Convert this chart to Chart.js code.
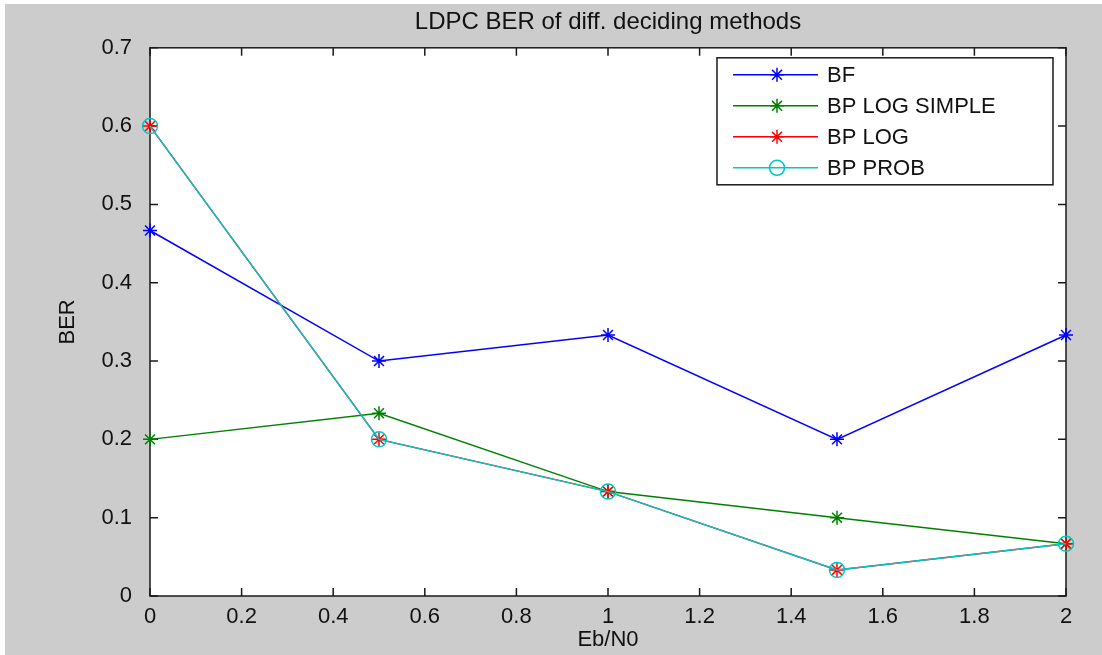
<!DOCTYPE html>
<html lang="en">
<head>
    <meta charset="UTF-8">
    <title>LDPC BER</title>
    <script src="https://cdn.jsdelivr.net/npm/chart.js"></script>
    <style>
        body { margin: 0; background: #ffffff; }
        .moldura { position: absolute; left: 5px; top: 4px; width: 1097px; height: 651px; background: #cccccc; }
    </style>
</head>
<body>
    <div class="moldura">
        <canvas id="grafico" width="1097" height="651"></canvas>
    </div>

<script>
    // valores
    const ebn0 = [0, 0.5, 1, 1.5, 2]
    const berBF = [0.4667, 0.3, 0.3333, 0.2, 0.3333]
    const berLogSimple = [0.2, 0.2333, 0.1333, 0.1, 0.0667]
    const berLog = [0.6, 0.2, 0.1333, 0.0333, 0.0667]
    const berProb = [0.6, 0.2, 0.1333, 0.0333, 0.0667]
    const nomes = ['BF', 'BP LOG SIMPLE', 'BP LOG', 'BP PROB']

    const fonte = 'Liberation Sans, Arial, sans-serif'

    function pontos(valores) {
        return ebn0.map((x, i) => ({ x: x, y: valores[i] }))
    }

    // ordem maior = desenhado por baixo (a ultima serie fica por cima, como no matlab)
    function serie(nome, valores, cor, estilo, ordem) {
        return {
            label: nome,
            data: pontos(valores),
            borderColor: cor,
            backgroundColor: estilo == 'circle' ? 'rgba(0,0,0,0)' : cor,
            pointBorderColor: cor,
            pointStyle: estilo,
            pointRadius: estilo == 'circle' ? 7.5 : 7,
            pointBorderWidth: 1.5,
            borderWidth: 1.5,
            tension: 0,
            clip: false,
            order: ordem
        }
    }

    function desenhaMarca(ctx, estilo, x, y, r, cor) {
        ctx.save()
        ctx.strokeStyle = cor
        ctx.lineWidth = 1.5
        ctx.beginPath()
        if (estilo == 'circle') {
            ctx.arc(x, y, r, 0, Math.PI * 2)
        } else {
            ctx.moveTo(x - r, y); ctx.lineTo(x + r, y)
            ctx.moveTo(x, y - r); ctx.lineTo(x, y + r)
            const d = r * Math.SQRT1_2
            ctx.moveTo(x - d, y - d); ctx.lineTo(x + d, y + d)
            ctx.moveTo(x - d, y + d); ctx.lineTo(x + d, y - d)
        }
        ctx.stroke()
        ctx.restore()
    }

    // caixa dos eixos, ticks para dentro e legenda estilo matlab
    const estiloMatlab = {
        id: 'estiloMatlab',
        beforeDatasetsDraw(chart) {
            const ctx = chart.ctx
            const a = chart.chartArea
            const sx = chart.scales.x
            const sy = chart.scales.y
            ctx.save()
            ctx.fillStyle = '#ffffff'
            ctx.fillRect(a.left, a.top, a.right - a.left, a.bottom - a.top)
            ctx.strokeStyle = '#1a1a1a'
            ctx.lineWidth = 1.5
            ctx.beginPath()
            sx.ticks.forEach(t => {
                const px = sx.getPixelForValue(t.value)
                ctx.moveTo(px, a.bottom); ctx.lineTo(px, a.bottom - 8)
                ctx.moveTo(px, a.top); ctx.lineTo(px, a.top + 8)
            })
            sy.ticks.forEach(t => {
                const py = sy.getPixelForValue(t.value)
                ctx.moveTo(a.left, py); ctx.lineTo(a.left + 8, py)
                ctx.moveTo(a.right, py); ctx.lineTo(a.right - 8, py)
            })
            ctx.stroke()
            ctx.strokeRect(a.left, a.top, a.right - a.left, a.bottom - a.top)
            ctx.restore()
        },
        afterDraw(chart) {
            const ctx = chart.ctx
            const a = chart.chartArea
            const larg = 336, alt = 127
            const x0 = a.right - 13 - larg
            const y0 = a.top + 10
            ctx.save()
            ctx.fillStyle = '#ffffff'
            ctx.fillRect(x0, y0, larg, alt)
            ctx.strokeStyle = '#1a1a1a'
            ctx.lineWidth = 1.5
            ctx.strokeRect(x0, y0, larg, alt)
            ctx.font = '22px ' + fonte
            ctx.textBaseline = 'middle'
            chart.data.datasets.forEach((ds, i) => {
                const y = y0 + 17 + i * 31
                ctx.strokeStyle = ds.borderColor
                ctx.lineWidth = 1.5
                ctx.beginPath()
                ctx.moveTo(x0 + 16, y); ctx.lineTo(x0 + 101, y)
                ctx.stroke()
                desenhaMarca(ctx, ds.pointStyle, x0 + 60, y, ds.pointRadius, ds.borderColor)
                ctx.fillStyle = '#111111'
                ctx.fillText(ds.label, x0 + 110, y + 1)
            })
            ctx.restore()
        }
    }

    function formata(v) {
        return String(Number(v.toFixed(1)))
    }

    const config = {
        type: 'line',
        data: {
            datasets: [
                serie(nomes[0], berBF, '#0000ff', 'star', 3),
                serie(nomes[1], berLogSimple, '#008000', 'star', 2),
                serie(nomes[2], berLog, '#ff0000', 'star', 1),
                serie(nomes[3], berProb, '#00c8c8', 'circle', 0)
            ]
        },
        options: {
            responsive: false,
            animation: false,
            layout: { padding: { top: 0, right: 36, bottom: 0, left: 0 } },
            plugins: {
                legend: { display: false },
                tooltip: { enabled: false },
                title: {
                    display: true,
                    text: 'LDPC BER of diff. deciding methods',
                    fullSize: false,
                    color: '#111111',
                    font: { family: fonte, size: 24, weight: 'normal' },
                    padding: { top: 4, bottom: 11 }
                }
            },
            scales: {
                x: {
                    type: 'linear',
                    min: 0,
                    max: 2,
                    grid: { display: false },
                    border: { display: false },
                    ticks: {
                        stepSize: 0.2,
                        padding: 0,
                        color: '#111111',
                        font: { family: fonte, size: 22 },
                        maxRotation: 0,
                        autoSkip: false,
                        callback: formata
                    },
                    title: {
                        display: true,
                        text: 'Eb/N0',
                        color: '#111111',
                        font: { family: fonte, size: 22 },
                        padding: { top: 0, bottom: 2 }
                    },
                    afterFit(escala) { escala.height = 59 }
                },
                y: {
                    min: 0,
                    max: 0.7,
                    grid: { display: false },
                    border: { display: false },
                    ticks: {
                        stepSize: 0.1,
                        padding: 10,
                        color: '#111111',
                        font: { family: fonte, size: 22 },
                        callback: formata
                    },
                    title: {
                        display: true,
                        text: 'BER',
                        color: '#111111',
                        font: { family: fonte, size: 22 },
                        padding: { top: 50, bottom: 0 }
                    },
                    afterFit(escala) { escala.width = 145 }
                }
            }
        },
        plugins: [estiloMatlab]
    }

    const meuGrafico = new Chart(document.getElementById('grafico'), config)
</script>
</body>
</html>
